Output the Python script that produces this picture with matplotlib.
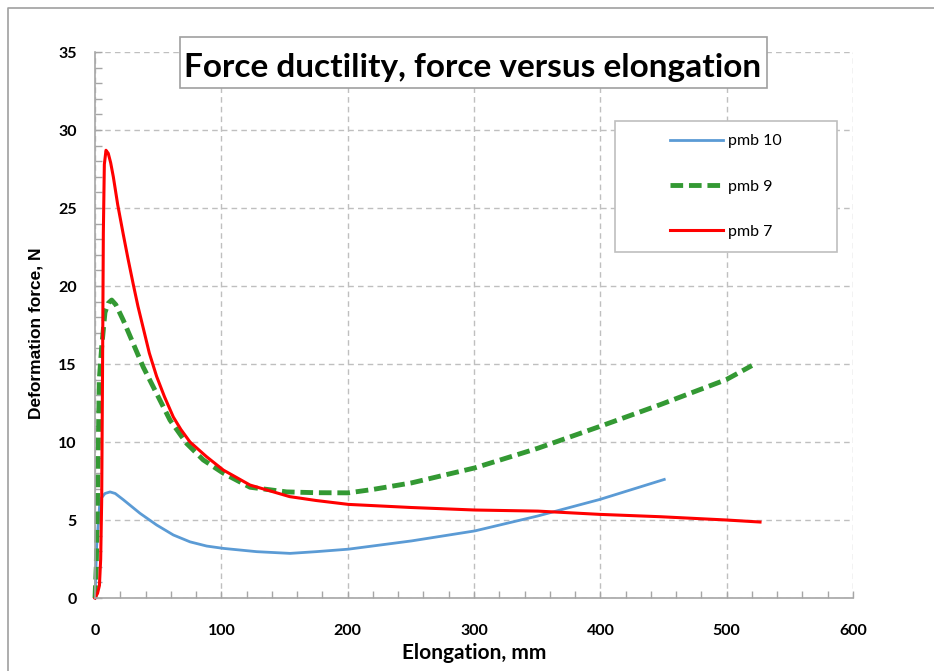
import matplotlib
matplotlib.use("Agg")
import matplotlib.pyplot as plt
from matplotlib.patches import Rectangle
from matplotlib.lines import Line2D
from matplotlib.ticker import MultipleLocator

# ---- data ----
x_pmb10 = [0, 1.3, 4, 7.9, 11.9, 16, 22.4, 35.6, 48.8, 62, 75.2, 88.4, 101.6, 128, 154.4,
           175, 200.6, 250.6, 300.6, 350.6, 399.7, 450.6]
y_pmb10 = [0, 3.3, 6.3, 6.7, 6.8, 6.7, 6.3, 5.43, 4.68, 4.04, 3.6, 3.33, 3.18, 2.97, 2.86,
           2.97, 3.13, 3.66, 4.3, 5.26, 6.32, 7.6]

x_pmb9 = [0, 1.0, 1.8, 2.6, 3.4, 5.3, 7.9, 10.5, 13.2, 16.5, 22.4, 30.3, 38.2, 48.8, 59.4,
          72.6, 85.7, 101.6, 122.7, 151.7, 175, 200.6, 220, 250.6, 300.6, 350.6, 399.7,
          447.6, 499.7, 520]
y_pmb9 = [0, 2.0, 5.4, 9.7, 14.0, 16.1, 18.3, 18.9, 19.1, 18.8, 17.8, 16.3, 14.8, 13.1, 11.4,
          9.9, 8.85, 8.0, 7.1, 6.8, 6.75, 6.74, 6.96, 7.38, 8.34, 9.6, 11.0,
          12.4, 14.0, 14.9]

x_pmb7 = [0, 2, 3.5, 4.5, 5.3, 6.0, 6.6, 7.4, 8.7, 10.5, 12.4, 14.5, 18, 22.4, 26, 30.3, 34,
          38.2, 43, 48.8, 55, 62, 68, 75.2, 88.4, 101.6, 122.7, 154, 175, 200.6, 250.6,
          300.6, 350.6, 399.7, 447.6, 499.7, 526.4]
y_pmb7 = [0, 0.3, 0.8, 2.5, 6.3, 15, 23.4, 27.8, 28.7, 28.5, 27.9, 27.0, 25.2, 23.3, 21.8,
          20.1, 18.7, 17.3, 15.7, 14.2, 12.9, 11.6, 10.8, 10.0, 9.05, 8.2, 7.24, 6.5, 6.25,
          6.0, 5.8, 5.64, 5.57, 5.36, 5.21, 5.0, 4.87]

labels = ["pmb 10", "pmb 9", "pmb 7"]
title = "Force ductility, force versus elongation"
xlabel = "Elongation, mm"
ylabel = "Deformation force, N"

FONT = ["Lato", "DejaVu Sans"]
plt.rcParams['font.family'] = FONT

W, H = 934, 671
fig = plt.figure(figsize=(W / 100, H / 100), dpi=100)
fig.patch.set_facecolor("white")

# outer chart frame
fig.add_artist(Line2D([8 / W, 8 / W, 1.0], [0.0, 1 - 8 / H, 1 - 8 / H],
                      transform=fig.transFigure, color="#A0A0A0", lw=1.2))

ax = fig.add_axes([95 / W, 1 - 598 / H, (853 - 95) / W, (598 - 52) / H])
ax.set_xlim(0, 600)
ax.set_ylim(0, 35)

ax.xaxis.set_major_locator(MultipleLocator(100))
ax.xaxis.set_minor_locator(MultipleLocator(20))
ax.yaxis.set_major_locator(MultipleLocator(5))
ax.yaxis.set_minor_locator(MultipleLocator(1))

ax.grid(True, which="major", color="#BFBFBF", linestyle=(0, (4, 3)), linewidth=1)
ax.set_axisbelow(True)
for s in ("top", "right"):
    ax.spines[s].set_visible(False)
for s in ("left", "bottom"):
    ax.spines[s].set_color("#A6A6A6")
    ax.spines[s].set_linewidth(1.2)

ax.tick_params(which="both", direction="in", color="#A6A6A6", width=1)
ax.tick_params(which="major", length=5)
ax.tick_params(which="minor", length=5)
ax.tick_params(axis="x", pad=19, labelsize=11.5)
ax.tick_params(axis="y", pad=13, labelsize=11.5)
for lab in ax.get_xticklabels() + ax.get_yticklabels():
    lab.set_fontweight("bold")

l1, = ax.plot(x_pmb10, y_pmb10, color="#5B9BD5", lw=2.0, label=labels[0])
l2, = ax.plot(x_pmb9, y_pmb9, color="#339933", lw=3.5, linestyle=(0, (2.6, 1.2)),
              label=labels[1])
l3, = ax.plot(x_pmb7, y_pmb7, color="#FF0000", lw=2.2, label=labels[2])
for ln in (l1, l2, l3):
    ln.set_clip_on(False)
    ln.set_solid_joinstyle("round")

ax.set_xlabel(xlabel, fontweight="bold", fontsize=15)
ax.xaxis.set_label_coords(0.5, (598 - 643) / 546)
ax.set_ylabel(ylabel, fontweight="bold", fontsize=12.5, family=["Liberation Sans", "DejaVu Sans"])
ax.yaxis.set_label_coords((44 - 95) / 758, (598 - 333) / 546)

# title box
fig.add_artist(Rectangle((180 / W, 1 - 88 / H), (767 - 180) / W, (88 - 37) / H,
                         transform=fig.transFigure, facecolor="white",
                         edgecolor="#A0A0A0", lw=1.2, zorder=2))
fig.text(472.5 / W, 1 - 76.5 / H, title, ha="center", va="baseline", fontsize=24,
         fontweight="bold", zorder=3)

# legend box
ax.add_patch(Rectangle((615 / W, 1 - 252 / H), (837 - 615) / W, (252 - 121) / H,
                       transform=fig.transFigure, facecolor="white",
                       edgecolor="#BFBFBF", lw=1.2, zorder=5, clip_on=False))
leg = ax.legend(handles=[l1, l2, l3], loc="upper left",
                bbox_to_anchor=(670 / W, 1 - 134 / H), bbox_transform=fig.transFigure,
                frameon=False, fontsize=11.5, handlelength=3.3, handletextpad=0.3,
                labelspacing=1.95, borderpad=0, borderaxespad=0)
leg.set_zorder(6)

fig.savefig("out.png", dpi=100, facecolor="white")
